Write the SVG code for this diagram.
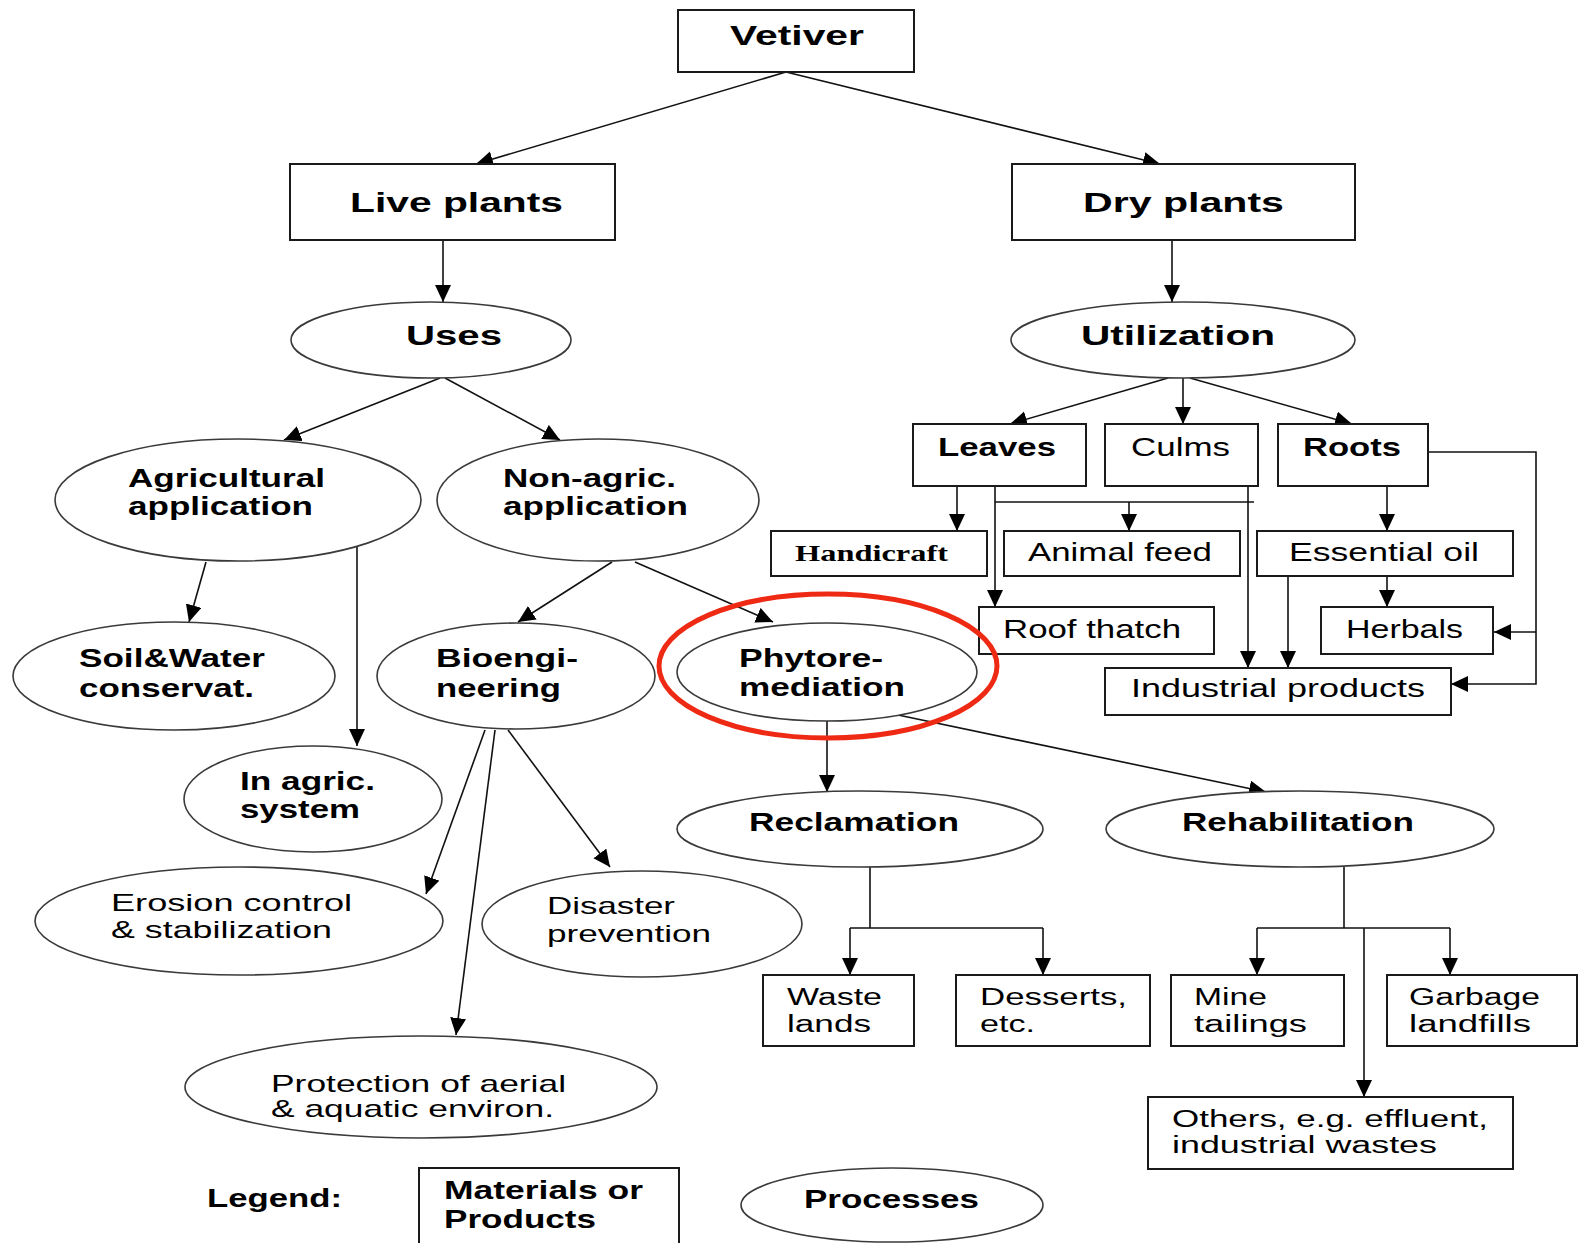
<svg xmlns="http://www.w3.org/2000/svg" width="1579" height="1243" viewBox="0 0 1579 1243">
<style>
.box{fill:#fff;stroke:#1a1a1a;stroke-width:2}
.proc{fill:#fff;stroke:#3a3a3a;stroke-width:1.6}
.t{font-family:"Liberation Sans",Arial,sans-serif;fill:#000}
.b{font-weight:bold}
.s{font-family:"Liberation Serif","Times New Roman",serif;font-weight:bold;fill:#000}
.c{stroke:#111;stroke-width:1.6;fill:none}
</style>
<defs>
<marker id="ar" markerUnits="userSpaceOnUse" markerWidth="18" markerHeight="17" refX="17" refY="8" orient="auto">
<path d="M0,0 L17,8 L0,16 z" fill="#000"/>
</marker>
</defs>
<rect width="1579" height="1243" fill="#fff"/>

<g id="connectors">
<path class="c" marker-end="url(#ar)" d="M786,72 L476,164"/>
<path class="c" marker-end="url(#ar)" d="M786,72 L1160,164"/>
<path class="c" marker-end="url(#ar)" d="M443,240 L443,302"/>
<path class="c" marker-end="url(#ar)" d="M1172,240 L1172,302"/>
<path class="c" marker-end="url(#ar)" d="M440,378 L284,440"/>
<path class="c" marker-end="url(#ar)" d="M445,378 L560,440"/>
<path class="c" marker-end="url(#ar)" d="M1168,378 L1010,424"/>
<path class="c" marker-end="url(#ar)" d="M1183,378 L1183,424"/>
<path class="c" marker-end="url(#ar)" d="M1190,378 L1352,424"/>
<path class="c" marker-end="url(#ar)" d="M957,486 L957,531"/>
<path class="c" marker-end="url(#ar)" d="M995,486 L995,607"/>
<path class="c" d="M995,502 L1254,502"/>
<path class="c" marker-end="url(#ar)" d="M1129,502 L1129,531"/>
<path class="c" marker-end="url(#ar)" d="M1248,486 L1248,668"/>
<path class="c" marker-end="url(#ar)" d="M1387,486 L1387,531"/>
<path class="c" marker-end="url(#ar)" d="M1387,576 L1387,607"/>
<path class="c" marker-end="url(#ar)" d="M1288,576 L1288,668"/>
<path class="c" marker-end="url(#ar)" d="M1428,452 L1536,452 L1536,684 L1451,684"/>
<path class="c" marker-end="url(#ar)" d="M1536,632 L1494,632"/>
<path class="c" marker-end="url(#ar)" d="M206,562 L189,622"/>
<path class="c" marker-end="url(#ar)" d="M357,545 L357,746"/>
<path class="c" marker-end="url(#ar)" d="M612,562 L518,622"/>
<path class="c" marker-end="url(#ar)" d="M635,562 L773,622"/>
<path class="c" marker-end="url(#ar)" d="M485,730 L426,894"/>
<path class="c" marker-end="url(#ar)" d="M495,730 L456,1035"/>
<path class="c" marker-end="url(#ar)" d="M508,730 L610,867"/>
<path class="c" marker-end="url(#ar)" d="M827,721 L827,792"/>
<path class="c" marker-end="url(#ar)" d="M898,715 L1266,792"/>
<path class="c" d="M870,867 L870,928 M850,928 L1043,928"/>
<path class="c" marker-end="url(#ar)" d="M850,928 L850,975"/>
<path class="c" marker-end="url(#ar)" d="M1043,928 L1043,975"/>
<path class="c" d="M1344,867 L1344,928 M1257,928 L1450,928"/>
<path class="c" marker-end="url(#ar)" d="M1257,928 L1257,975"/>
<path class="c" marker-end="url(#ar)" d="M1450,928 L1450,975"/>
<path class="c" marker-end="url(#ar)" d="M1364,928 L1364,1097"/>
</g>

<g id="vetiver"><rect class="box" x="678" y="10" width="236" height="62"/>
<text class="t b" x="730" y="45" font-size="28" textLength="134" lengthAdjust="spacingAndGlyphs">Vetiver</text></g>

<g id="live-plants"><rect class="box" x="290" y="164" width="325" height="76"/>
<text class="t b" x="350" y="212" font-size="28" textLength="213" lengthAdjust="spacingAndGlyphs">Live plants</text></g>

<g id="dry-plants"><rect class="box" x="1012" y="164" width="343" height="76"/>
<text class="t b" x="1083" y="212" font-size="28" textLength="201" lengthAdjust="spacingAndGlyphs">Dry plants</text></g>

<g id="uses"><ellipse class="proc" cx="431" cy="340" rx="140" ry="38"/>
<text class="t b" x="406" y="345" font-size="28" textLength="96" lengthAdjust="spacingAndGlyphs">Uses</text></g>

<g id="utilization"><ellipse class="proc" cx="1183" cy="340" rx="172" ry="38"/>
<text class="t b" x="1081" y="345" font-size="28" textLength="194" lengthAdjust="spacingAndGlyphs">Utilization</text></g>

<g id="leaves"><rect class="box" x="913" y="424" width="173" height="62"/>
<text class="t b" x="938" y="456" font-size="25" textLength="118" lengthAdjust="spacingAndGlyphs">Leaves</text></g>

<g id="culms"><rect class="box" x="1105" y="424" width="153" height="62"/>
<text class="t" x="1131" y="456" font-size="25" textLength="99" lengthAdjust="spacingAndGlyphs">Culms</text></g>

<g id="roots"><rect class="box" x="1278" y="424" width="150" height="62"/>
<text class="t b" x="1303" y="456" font-size="25" textLength="98" lengthAdjust="spacingAndGlyphs">Roots</text></g>

<g id="handicraft"><rect class="box" x="771" y="531" width="216" height="45"/>
<text class="s" x="795" y="561" font-size="23" textLength="153" lengthAdjust="spacingAndGlyphs">Handicraft</text></g>

<g id="animal-feed"><rect class="box" x="1004" y="531" width="236" height="45"/>
<text class="t" x="1028" y="561" font-size="25" textLength="184" lengthAdjust="spacingAndGlyphs">Animal feed</text></g>

<g id="essential-oil"><rect class="box" x="1257" y="531" width="256" height="45"/>
<text class="t" x="1289" y="561" font-size="25" textLength="190" lengthAdjust="spacingAndGlyphs">Essential oil</text></g>

<g id="roof-thatch"><rect class="box" x="979" y="607" width="235" height="47"/>
<text class="t" x="1003" y="638" font-size="25" textLength="178" lengthAdjust="spacingAndGlyphs">Roof thatch</text></g>

<g id="herbals"><rect class="box" x="1321" y="607" width="172" height="47"/>
<text class="t" x="1346" y="638" font-size="25" textLength="117" lengthAdjust="spacingAndGlyphs">Herbals</text></g>

<g id="industrial-products"><rect class="box" x="1105" y="668" width="346" height="47"/>
<text class="t" x="1131" y="697" font-size="25" textLength="294" lengthAdjust="spacingAndGlyphs">Industrial products</text></g>

<g id="agricultural"><ellipse class="proc" cx="238" cy="500" rx="183" ry="61"/>
<text class="t b" x="128" y="487" font-size="25" textLength="197" lengthAdjust="spacingAndGlyphs">Agricultural</text>
<text class="t b" x="128" y="515" font-size="25" textLength="185" lengthAdjust="spacingAndGlyphs">application</text></g>

<g id="non-agric"><ellipse class="proc" cx="598" cy="500" rx="161" ry="61"/>
<text class="t b" x="503" y="487" font-size="25" textLength="173" lengthAdjust="spacingAndGlyphs">Non-agric.</text>
<text class="t b" x="503" y="515" font-size="25" textLength="185" lengthAdjust="spacingAndGlyphs">application</text></g>

<g id="soil-water"><ellipse class="proc" cx="174" cy="676" rx="161" ry="54"/>
<text class="t b" x="79" y="667" font-size="25" textLength="186" lengthAdjust="spacingAndGlyphs">Soil&amp;Water</text>
<text class="t b" x="79" y="697" font-size="25" textLength="175" lengthAdjust="spacingAndGlyphs">conservat.</text></g>

<g id="bioengineering"><ellipse class="proc" cx="516" cy="676" rx="139" ry="53"/>
<text class="t b" x="436" y="667" font-size="25" textLength="142" lengthAdjust="spacingAndGlyphs">Bioengi-</text>
<text class="t b" x="436" y="697" font-size="25" textLength="125" lengthAdjust="spacingAndGlyphs">neering</text></g>

<g id="phytoremediation"><ellipse class="proc" cx="827" cy="672" rx="150" ry="49"/>
<text class="t b" x="739" y="667" font-size="25" textLength="144" lengthAdjust="spacingAndGlyphs">Phytore-</text>
<text class="t b" x="739" y="696" font-size="25" textLength="166" lengthAdjust="spacingAndGlyphs">mediation</text></g>

<g id="highlight"><ellipse cx="828" cy="666" rx="169" ry="72" fill="none" stroke="#ee2a14" stroke-width="5"/></g>

<g id="in-agric"><ellipse class="proc" cx="313" cy="799" rx="129" ry="53"/>
<text class="t b" x="240" y="790" font-size="25" textLength="135" lengthAdjust="spacingAndGlyphs">In agric.</text>
<text class="t b" x="240" y="818" font-size="25" textLength="120" lengthAdjust="spacingAndGlyphs">system</text></g>

<g id="reclamation"><ellipse class="proc" cx="860" cy="829" rx="183" ry="38"/>
<text class="t b" x="749" y="831" font-size="25" textLength="210" lengthAdjust="spacingAndGlyphs">Reclamation</text></g>

<g id="rehabilitation"><ellipse class="proc" cx="1300" cy="829" rx="194" ry="38"/>
<text class="t b" x="1182" y="831" font-size="25" textLength="232" lengthAdjust="spacingAndGlyphs">Rehabilitation</text></g>

<g id="erosion"><ellipse class="proc" cx="239" cy="921" rx="204" ry="54"/>
<text class="t" x="111" y="911" font-size="24" textLength="241" lengthAdjust="spacingAndGlyphs">Erosion control</text>
<text class="t" x="111" y="938" font-size="24" textLength="221" lengthAdjust="spacingAndGlyphs">&amp; stabilization</text></g>

<g id="disaster"><ellipse class="proc" cx="642" cy="924" rx="160" ry="53"/>
<text class="t" x="547" y="914" font-size="24" textLength="128" lengthAdjust="spacingAndGlyphs">Disaster</text>
<text class="t" x="547" y="942" font-size="24" textLength="164" lengthAdjust="spacingAndGlyphs">prevention</text></g>

<g id="protection"><ellipse class="proc" cx="421" cy="1087" rx="236" ry="51"/>
<text class="t" x="271" y="1092" font-size="24" textLength="295" lengthAdjust="spacingAndGlyphs">Protection of aerial</text>
<text class="t" x="271" y="1117" font-size="24" textLength="283" lengthAdjust="spacingAndGlyphs">&amp; aquatic environ.</text></g>

<g id="waste-lands"><rect class="box" x="763" y="975" width="151" height="71"/>
<text class="t" x="787" y="1005" font-size="23" textLength="95" lengthAdjust="spacingAndGlyphs">Waste</text>
<text class="t" x="787" y="1032" font-size="23" textLength="84" lengthAdjust="spacingAndGlyphs">lands</text></g>

<g id="desserts"><rect class="box" x="956" y="975" width="194" height="71"/>
<text class="t" x="980" y="1005" font-size="23" textLength="147" lengthAdjust="spacingAndGlyphs">Desserts,</text>
<text class="t" x="980" y="1032" font-size="23" textLength="55" lengthAdjust="spacingAndGlyphs">etc.</text></g>

<g id="mine-tailings"><rect class="box" x="1171" y="975" width="173" height="71"/>
<text class="t" x="1194" y="1005" font-size="23" textLength="73" lengthAdjust="spacingAndGlyphs">Mine</text>
<text class="t" x="1194" y="1032" font-size="23" textLength="113" lengthAdjust="spacingAndGlyphs">tailings</text></g>

<g id="garbage"><rect class="box" x="1387" y="975" width="190" height="71"/>
<text class="t" x="1409" y="1005" font-size="23" textLength="131" lengthAdjust="spacingAndGlyphs">Garbage</text>
<text class="t" x="1409" y="1032" font-size="23" textLength="122" lengthAdjust="spacingAndGlyphs">landfills</text></g>

<g id="others"><rect class="box" x="1148" y="1097" width="365" height="72"/>
<text class="t" x="1172" y="1127" font-size="23" textLength="316" lengthAdjust="spacingAndGlyphs">Others, e.g. effluent,</text>
<text class="t" x="1172" y="1153" font-size="23" textLength="265" lengthAdjust="spacingAndGlyphs">industrial wastes</text></g>

<g id="legend">
<text class="t b" x="207" y="1207" font-size="25" textLength="135" lengthAdjust="spacingAndGlyphs">Legend:</text>
<rect class="box" x="419" y="1168" width="260" height="90"/>
<text class="t b" x="444" y="1199" font-size="25" textLength="199" lengthAdjust="spacingAndGlyphs">Materials or</text>
<text class="t b" x="444" y="1228" font-size="25" textLength="152" lengthAdjust="spacingAndGlyphs">Products</text>
<ellipse class="proc" cx="892" cy="1205" rx="151" ry="37"/>
<text class="t b" x="804" y="1208" font-size="25" textLength="175" lengthAdjust="spacingAndGlyphs">Processes</text>
</g>
</svg>
